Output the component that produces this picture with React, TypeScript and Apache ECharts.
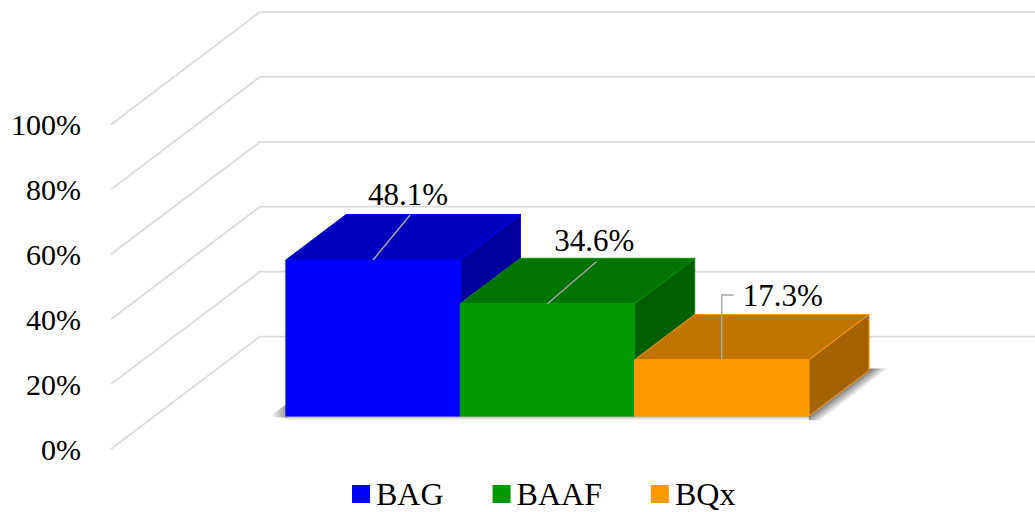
import { useEffect, useRef } from "react";
import * as echarts from "echarts";

const seriesNames = ["BAG", "BAAF", "BQx"];
const seriesValues = [48.1, 34.6, 17.3];
const tickValues = [0, 20, 40, 60, 80, 100];
const frontColors = ["#0000ff", "#009900", "#ff9900"];
const topColors = ["#0000bf", "#007300", "#c27400"];
const sideColors = ["#00009c", "#005f00", "#a46300"];

// Leader geometry relative to the centre of each bar's front top edge.
const leaderPaths = [
  [[0, 0], [37, -45]],
  [[0, 0], [49, -42]],
  [[0, 0], [0, -65], [12, -65]],
];
const labelOffsets = [[35, -65], [47, -63], [61, -64]];

const SERIF = '"Liberation Serif", "Times New Roman", serif';
const GRID_LEFT = 111;
const GRID_TOP = 124.5;
const GRID_WIDTH = 775;
const GRID_HEIGHT = 324.5;
const X_MIN = -0.753;
const X_MAX = 3.693;

// Oblique projection: a depth of 1 spans the whole floor of the plot box.
const DEPTH_X = 149;
const DEPTH_Y = -112.5;
const BAR_FRONT_DEPTH = 0.293;
const BAR_DEPTH = 0.404;

type Pt = number[];
const shift = (p: Pt, d: number): Pt => [p[0] + DEPTH_X * d, p[1] + DEPTH_Y * d];

const shade = (a: number) => `rgba(90,90,90,${a})`;
const fade = (x: number, y: number, x2: number, y2: number, a: number) =>
  new echarts.graphic.LinearGradient(
    x, y, x2, y2,
    [{ offset: 0, color: shade(a) }, { offset: 1, color: shade(0) }],
    true,
  );

function renderWallLine(_: any, api: any) {
  const tick = api.value(0);
  const front = api.coord([X_MIN, tick]);
  const end = api.coord([X_MAX, tick]);
  return {
    type: "polyline",
    silent: true,
    shape: { points: [front, shift(front, 1), shift(end, 1)] },
    style: { stroke: "#dadada", lineWidth: 1.75, fill: "none" },
  };
}

// Soft shadow falling on the floor around the row of bars.
function renderFloorShadow(_: any, api: any) {
  const left = shift(api.coord([0, 0]), BAR_FRONT_DEPTH);
  const right = shift(api.coord([seriesValues.length, 0]), BAR_FRONT_DEPTH);
  const rear = shift(right, BAR_DEPTH);
  const mid = [(right[0] + rear[0]) / 2, (right[1] + rear[1]) / 2];
  return {
    type: "group",
    silent: true,
    children: [
      {
        type: "polygon",
        shape: {
          points: [
            [left[0] - 15, left[1] - 1],
            [left[0] + 1, left[1] - 12],
            [left[0] + 1, left[1] + 2],
            [left[0] - 12, left[1] + 1],
          ],
        },
        style: { fill: fade(left[0], 0, left[0] - 15, 0, 0.6) },
      },
      {
        type: "polygon",
        shape: {
          points: [
            [left[0], left[1]],
            [right[0] + 1, right[1]],
            [right[0] + 1, right[1] + 4],
            [left[0], left[1] + 4],
          ],
        },
        style: { fill: fade(0, left[1], 0, left[1] + 4, 0.5) },
      },
      {
        type: "polygon",
        shape: {
          points: [
            right,
            rear,
            [rear[0], rear[1] - 2],
            [rear[0] + 18, rear[1] - 2],
            [right[0] + 11, right[1] + 5],
            [right[0], right[1] + 4],
          ],
        },
        style: { fill: fade(mid[0], mid[1], mid[0] + 6.5, mid[1] + 8.5, 0.8) },
      },
    ],
  };
}

function makeBarRenderer(index: number) {
  return (_: any, api: any) => {
    const x = api.value(0);
    const v = api.value(1);
    const bottomLeft = shift(api.coord([x, 0]), BAR_FRONT_DEPTH);
    const bottomRight = shift(api.coord([x + 1, 0]), BAR_FRONT_DEPTH);
    const topLeft = shift(api.coord([x, v]), BAR_FRONT_DEPTH);
    const topRight = shift(api.coord([x + 1, v]), BAR_FRONT_DEPTH);
    const edge = { stroke: frontColors[index], lineWidth: 1, lineJoin: "round" };
    const anchor = [(topLeft[0] + topRight[0]) / 2, topLeft[1]];
    const labelAt = labelOffsets[index];
    return {
      type: "group",
      children: [
        {
          type: "polygon",
          shape: { points: [topLeft, topRight, shift(topRight, BAR_DEPTH), shift(topLeft, BAR_DEPTH)] },
          style: { fill: topColors[index], ...edge },
        },
        {
          type: "polygon",
          shape: { points: [topRight, bottomRight, shift(bottomRight, BAR_DEPTH), shift(topRight, BAR_DEPTH)] },
          style: { fill: sideColors[index], ...edge },
        },
        {
          type: "polygon",
          shape: { points: [topLeft, topRight, bottomRight, bottomLeft] },
          style: { fill: frontColors[index], ...edge },
        },
        {
          type: "polyline",
          shape: { points: leaderPaths[index].map((p) => [anchor[0] + p[0], anchor[1] + p[1]]) },
          style: { stroke: "#a6a6a6", lineWidth: 1.5, fill: "none" },
        },
        {
          type: "text",
          style: {
            x: anchor[0] + labelAt[0],
            y: anchor[1] + labelAt[1],
            text: `${v.toFixed(1)}%`,
            font: `31px ${SERIF}`,
            fill: "#000000",
            align: "center",
            verticalAlign: "middle",
          },
        },
      ],
    };
  };
}

export default function App() {
  const ref = useRef<HTMLDivElement>(null);

  useEffect(() => {
    const chart = echarts.init(ref.current!, undefined, { renderer: "svg" });
    chart.setOption({
      animation: false,
      backgroundColor: "#ffffff",
      grid: { left: GRID_LEFT, top: GRID_TOP, width: GRID_WIDTH, height: GRID_HEIGHT },
      xAxis: { type: "value", min: X_MIN, max: X_MAX, show: false },
      yAxis: {
        type: "value",
        min: 0,
        max: 100,
        interval: 20,
        axisLine: { show: false },
        axisTick: { show: false },
        splitLine: { show: false },
        axisLabel: {
          formatter: "{value}%",
          margin: 30,
          color: "#000000",
          fontFamily: SERIF,
          fontSize: 30,
        },
      },
      legend: {
        left: 347,
        top: 473,
        itemWidth: 18,
        itemHeight: 18,
        itemGap: 49,
        icon: "rect",
        selectedMode: false,
        data: seriesNames,
        textStyle: { color: "#000000", fontFamily: SERIF, fontSize: 32, padding: [0, 0, 0, 1] },
      },
      series: [
        {
          type: "custom",
          name: "wall",
          clip: false,
          silent: true,
          renderItem: renderWallLine,
          encode: { y: 0 },
          data: tickValues.map((t) => [t]),
          z: 1,
        },
        {
          type: "custom",
          name: "floor",
          clip: false,
          silent: true,
          renderItem: renderFloorShadow,
          data: [[0]],
          z: 2,
        },
        ...seriesNames.map((name, i) => ({
          type: "custom",
          name,
          clip: false,
          renderItem: makeBarRenderer(i),
          encode: { x: 0, y: 1 },
          itemStyle: { color: frontColors[i] },
          data: [[i, seriesValues[i]]],
          z: 3 + i,
        })),
      ],
    });
    return () => chart.dispose();
  }, []);

  return (
    <div
      ref={ref}
      style={{ position: "absolute", left: 0, top: 0, width: 1035, height: 512 }}
    />
  );
}
